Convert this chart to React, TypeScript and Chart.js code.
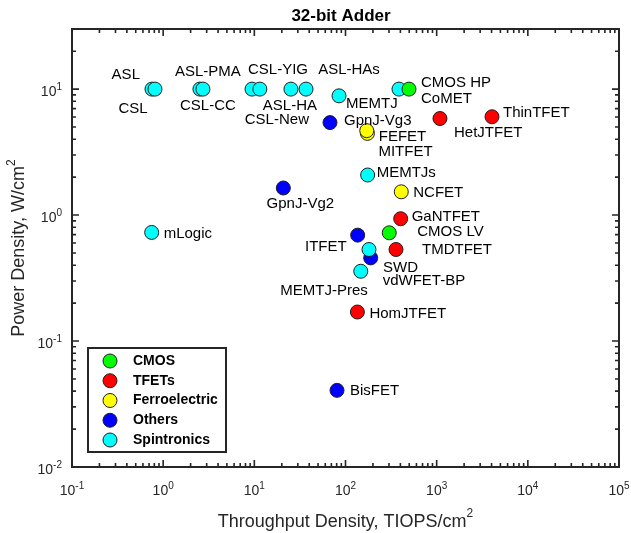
import { useEffect, useRef } from 'react';
import { Chart, registerables } from 'chart.js';

Chart.register(...registerables);

const FONT = '"Liberation Sans", Arial, Helvetica, sans-serif';

// ---- data ----
const categories = ['CMOS', 'TFETs', 'Ferroelectric', 'Others', 'Spintronics'];
const categoryColors = ['#00ff00', '#ff0000', '#ffff00', '#0000ff', '#00ffff'];
const drawOrder = [0, 4, 3, 2, 1];

const cmosNames = ['CMOS HP', 'CMOS LV'];
const cmosX = [497, 302];
const cmosY = [10, 0.723];

const tfetNames = ['ThinTFET', 'HetJTFET', 'GaNTFET', 'TMDTFET', 'HomJTFET'];
const tfetX = [4045, 1087, 403, 358, 135];
const tfetY = [6.03, 5.84, 0.935, 0.533, 0.17];

const ferroNames = ['MITFET', 'FEFET', 'NCFET'];
const ferroX = [174, 171, 409];
const ferroY = [4.45, 4.68, 1.53];

const otherNames = ['GpnJ-Vg3', 'GpnJ-Vg2', 'ITFET', 'vdWFET-BP', 'BisFET'];
const otherX = [67.6, 20.8, 136, 189, 80.7];
const otherY = [5.42, 1.64, 0.693, 0.457, 0.0406];

const spinNames = ['CSL', 'ASL', 'CSL-CC', 'ASL-PMA', 'CSL-YIG', 'CSL-New', 'ASL-HA', 'ASL-HAs', 'MEMTJ', 'CoMET', 'MEMTJs', 'SWD', 'MEMTJ-Pres', 'mLogic'];
const spinX = [0.754, 0.813, 2.53, 2.73, 9.43, 11.5, 25.2, 36.9, 84.9, 386, 175, 181, 147, 0.748];
const spinY = [10, 10, 10, 10, 10, 10, 10, 10, 8.84, 10, 2.08, 0.533, 0.358, 0.728];

const xTickExps = [-1, 0, 1, 2, 3, 4, 5];
const yTickExps = [-2, -1, 0, 1];
const xMin = 0.1, xMax = 1e5, yMin = 0.01, yMax = 30;

// ---- label placement (offset from marker, px) ----
type Place = [number, number, CanvasTextAlign];
const cmosPlace: Place[] = [[12, -6, 'left'], [28, -1, 'left']];
const tfetPlace: Place[] = [[11, -4, 'left'], [14, 14, 'left'], [11, -2, 'left'], [26, 0, 'left'], [12, 2, 'left']];
const ferroPlace: Place[] = [[11, 18, 'left'], [12, 6, 'left'], [12, 1, 'left']];
const otherPlace: Place[] = [[14, -2, 'left'], [17, 16, 'center'], [-11, 12, 'right'], [12, 23, 'left'], [13, 1, 'left']];
const spinPlace: Place[] = [
  [-19, 20, 'center'], [-15, -14, 'right'], [8, 17, 'center'], [5, -17, 'center'],
  [26, -19, 'center'], [17, 31, 'center'], [-1, 17, 'center'], [43, -19, 'center'],
  [7, 8, 'left'], [22, 10, 'left'], [9, -2, 'left'], [14, 18, 'left'], [7, 20, 'right'], [12, 1, 'left'],
];

const seriesNames = [cmosNames, tfetNames, ferroNames, otherNames, spinNames];
const seriesX = [cmosX, tfetX, ferroX, otherX, spinX];
const seriesY = [cmosY, tfetY, ferroY, otherY, spinY];
const seriesPlace = [cmosPlace, tfetPlace, ferroPlace, otherPlace, spinPlace];

const AXIS_COLOR = '#262626';

function drawPow(ctx: CanvasRenderingContext2D, exp: string, x: number, y: number, align: 'center' | 'right') {
  ctx.font = `14px ${FONT}`;
  const wb = ctx.measureText('10').width;
  ctx.font = `10px ${FONT}`;
  const we = ctx.measureText(exp).width;
  const total = wb + we;
  const start = align === 'center' ? x - total / 2 : x - total;
  ctx.textAlign = 'left';
  ctx.textBaseline = 'middle';
  ctx.font = `14px ${FONT}`;
  ctx.fillText('10', start, y);
  ctx.font = `10px ${FONT}`;
  ctx.fillText(exp, start + wb, y - 5);
}

const overlay = {
  id: 'overlay',
  afterDatasetsDraw(chart: any) {
    const ctx: CanvasRenderingContext2D = chart.ctx;
    const { left, right, top, bottom } = chart.chartArea;
    const xs = chart.scales.x;
    const ys = chart.scales.y;
    ctx.save();

    // point labels
    ctx.fillStyle = '#000';
    ctx.font = `15px ${FONT}`;
    ctx.textBaseline = 'middle';
    chart.data.datasets.forEach((ds: any, i: number) => {
      const meta = chart.getDatasetMeta(i);
      meta.data.forEach((pt: any, j: number) => {
        const [dx, dy, align] = ds.place[j];
        ctx.textAlign = align;
        ctx.fillText(ds.names[j], pt.x + dx, pt.y + dy);
      });
    });

    // frame
    ctx.strokeStyle = AXIS_COLOR;
    ctx.lineWidth = 2;
    ctx.strokeRect(left, top, right - left, bottom - top);

    // ticks
    ctx.lineWidth = 1.6;
    ctx.beginPath();
    for (let d = -1; d < 5; d++) {
      for (let k = 1; k <= 9; k++) {
        const v = k * Math.pow(10, d);
        if (v < xMin || v > xMax) continue;
        const px = xs.getPixelForValue(v);
        const len = k === 1 ? 7 : 4;
        ctx.moveTo(px, bottom); ctx.lineTo(px, bottom - len);
        ctx.moveTo(px, top); ctx.lineTo(px, top + len);
      }
    }
    {
      const px = xs.getPixelForValue(xMax);
      ctx.moveTo(px, bottom); ctx.lineTo(px, bottom - 7);
      ctx.moveTo(px, top); ctx.lineTo(px, top + 7);
    }
    for (let d = -2; d < 2; d++) {
      for (let k = 1; k <= 9; k++) {
        const v = k * Math.pow(10, d);
        if (v < yMin || v > yMax) continue;
        const py = ys.getPixelForValue(v);
        const len = k === 1 ? 7 : 4;
        ctx.moveTo(left, py); ctx.lineTo(left + len, py);
        ctx.moveTo(right, py); ctx.lineTo(right - len, py);
      }
    }
    ctx.stroke();

    // tick labels
    ctx.fillStyle = '#262626';
    xTickExps.forEach((e) => {
      drawPow(ctx, String(e), xs.getPixelForValue(Math.pow(10, e)), 491, 'center');
    });
    yTickExps.forEach((e) => {
      drawPow(ctx, String(e), 62, ys.getPixelForValue(Math.pow(10, e)) + 3.5, 'right');
    });

    // axis titles
    ctx.fillStyle = '#262626';
    ctx.textBaseline = 'middle';
    const xTitle = 'Throughput Density, TIOPS/cm';
    ctx.font = `18px ${FONT}`;
    const xw = ctx.measureText(xTitle).width;
    ctx.font = `12px ${FONT}`;
    const sw = ctx.measureText('2').width;
    const xc = (left + right) / 2;
    let sx = xc - (xw + sw) / 2;
    ctx.textAlign = 'left';
    ctx.font = `18px ${FONT}`;
    ctx.fillText(xTitle, sx, 522);
    ctx.font = `12px ${FONT}`;
    ctx.fillText('2', sx + xw, 514);

    const yTitle = 'Power Density, W/cm';
    ctx.save();
    ctx.translate(19.5, (top + bottom) / 2);
    ctx.rotate(-Math.PI / 2);
    ctx.font = `18px ${FONT}`;
    const yw = ctx.measureText(yTitle).width;
    sx = -(yw + sw) / 2;
    ctx.fillText(yTitle, sx, 0);
    ctx.font = `12px ${FONT}`;
    ctx.fillText('2', sx + yw, -8);
    ctx.restore();

    // title
    ctx.fillStyle = '#000';
    ctx.font = `bold 17px ${FONT}`;
    ctx.textAlign = 'center';
    ctx.fillText('32-bit Adder', 341, 16);

    // legend
    const lx = 88, ly = 348, lw = 138, lh = 104;
    ctx.fillStyle = '#fff';
    ctx.fillRect(lx, ly, lw, lh);
    ctx.strokeStyle = AXIS_COLOR;
    ctx.lineWidth = 2;
    ctx.strokeRect(lx, ly, lw, lh);
    categories.forEach((c, i) => {
      const cy = 361 + i * 19.75;
      ctx.beginPath();
      ctx.arc(110, cy, 7, 0, Math.PI * 2);
      ctx.fillStyle = categoryColors[i];
      ctx.fill();
      ctx.lineWidth = 1;
      ctx.strokeStyle = '#1f1f1f';
      ctx.stroke();
      ctx.fillStyle = '#000';
      ctx.font = `bold 14px ${FONT}`;
      ctx.textAlign = 'left';
      ctx.textBaseline = 'middle';
      ctx.fillText(c, 133, cy);
    });

    ctx.restore();
  },
};

export default function App() {
  const ref = useRef<HTMLCanvasElement>(null);
  useEffect(() => {
    document.body.style.margin = '0';
    const canvas = ref.current!;
    const chart = new Chart(canvas, {
      type: 'scatter',
      data: {
        datasets: categories.map((c, i) => ({
          label: c,
          data: seriesX[i].map((x, j) => ({ x, y: seriesY[i][j] })),
          names: seriesNames[i],
          place: seriesPlace[i],
          backgroundColor: categoryColors[i],
          borderColor: '#1f1f1f',
          borderWidth: 1,
          pointRadius: 7,
          pointHoverRadius: 7,
          order: drawOrder[i],
        })) as any,
      },
      options: {
        responsive: false,
        animation: false,
        events: [],
        layout: { padding: { top: 29, right: 12, left: 0, bottom: 0 } },
        plugins: {
          legend: { display: false },
          title: { display: false },
          tooltip: { enabled: false },
        },
        scales: {
          x: {
            type: 'logarithmic',
            min: xMin,
            max: xMax,
            ticks: { display: false },
            grid: { display: false },
            border: { display: false },
            afterFit: (s: any) => { s.height = 66; },
          },
          y: {
            type: 'logarithmic',
            min: yMin,
            max: yMax,
            ticks: { display: false },
            grid: { display: false },
            border: { display: false },
            afterFit: (s: any) => { s.width = 72; },
          },
        },
      },
      plugins: [overlay],
    });
    return () => chart.destroy();
  }, []);
  return <canvas ref={ref} width={631} height={533} style={{ display: 'block' }} />;
}
